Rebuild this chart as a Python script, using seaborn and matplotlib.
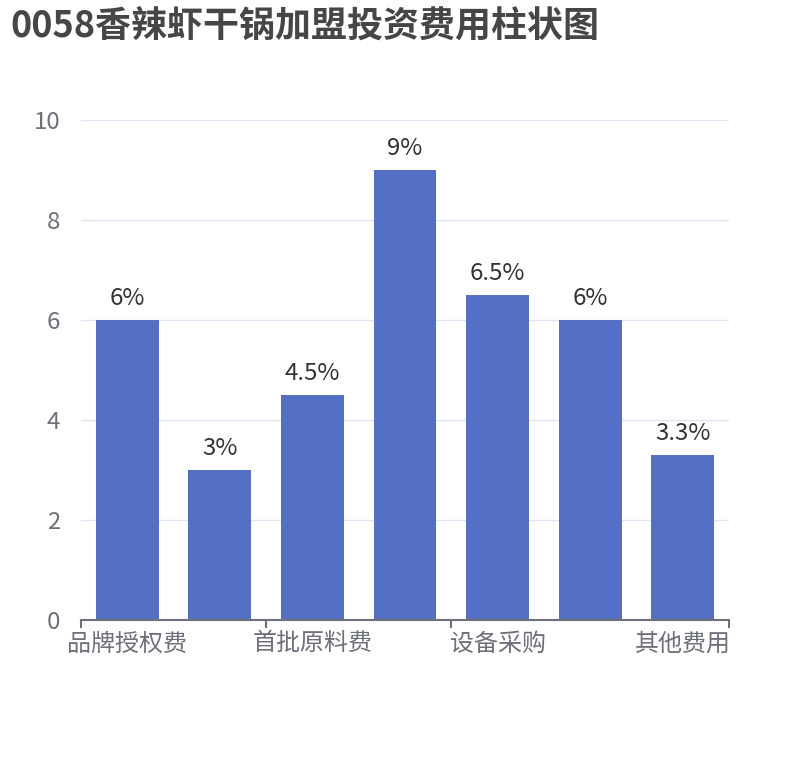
import matplotlib
matplotlib.use("Agg")
import pandas as pd
from matplotlib import pyplot as plt
from matplotlib.ticker import FixedLocator, NullFormatter
import seaborn as sns

# data
title = "0058香辣虾干锅加盟投资费用柱状图"
categories = ["品牌授权费", "店面装修", "首批原料费", "房租押金", "设备采购", "人员工资", "其他费用"]
values = [6, 3, 4.5, 9, 6.5, 6, 3.3]
value_labels = ["6%", "3%", "4.5%", "9%", "6.5%", "6%", "3.3%"]
y_ticks = [0, 2, 4, 6, 8, 10]

sns.set_theme(style="white")
plt.rcParams['font.family'] = ['Noto Sans CJK SC', 'DejaVu Sans']

PX = 0.72  # px -> pt at dpi 100
AXIS_COLOR = "#6E7079"

df = pd.DataFrame({"category": categories, "value": values})

fig = plt.figure(figsize=(8.1, 7.6), dpi=100)
ax = fig.add_axes([81 / 810, 1 - 620 / 760, 648 / 810, 500 / 760])

sns.barplot(data=df, x="category", y="value", color="#5470c6",
            saturation=1, width=0.68, linewidth=0, ax=ax, zorder=3)

for i, (v, lab) in enumerate(zip(values, value_labels)):
    ax.annotate(lab, (i, v), xytext=(0, 7), textcoords="offset points",
                ha="center", va="bottom", fontsize=24 * PX, color="#333333")

ax.set_xlim(-0.5, len(categories) - 0.5)
ax.set_ylim(0, 10)
ax.set_yticks(y_ticks)
ax.set_yticklabels([str(t) for t in y_ticks])
ax.yaxis.grid(True, color="#E0E6F1", linewidth=1, zorder=0)
ax.tick_params(axis="y", length=0, pad=15, labelsize=24 * PX, labelcolor=AXIS_COLOR)

# ticks on category boundaries, labels on every other category
ax.xaxis.set_major_locator(FixedLocator([-0.5, 1.5, 3.5, 6.5]))
ax.xaxis.set_major_formatter(NullFormatter())
ax.xaxis.set_minor_locator(FixedLocator([0, 2, 4, 6]))
ax.set_xticklabels([categories[i] for i in [0, 2, 4, 6]], minor=True)
ax.tick_params(axis="x", which="major", length=6, width=1.5, color=AXIS_COLOR,
               direction="out", bottom=True)
ax.tick_params(axis="x", which="minor", length=0, pad=9,
               labelsize=24 * PX, labelcolor=AXIS_COLOR)

ax.set_xlabel("")
ax.set_ylabel("")
for s in ["top", "right", "left"]:
    ax.spines[s].set_visible(False)
ax.spines["bottom"].set_color(AXIS_COLOR)
ax.spines["bottom"].set_linewidth(1.5)
ax.spines["bottom"].set_zorder(4)

fig.text(10 / 810, 1 - 26 / 760, title, fontsize=36 * PX, fontweight="bold",
         color="#464646", ha="left", va="center")

fig.savefig("out.png", dpi=100)
